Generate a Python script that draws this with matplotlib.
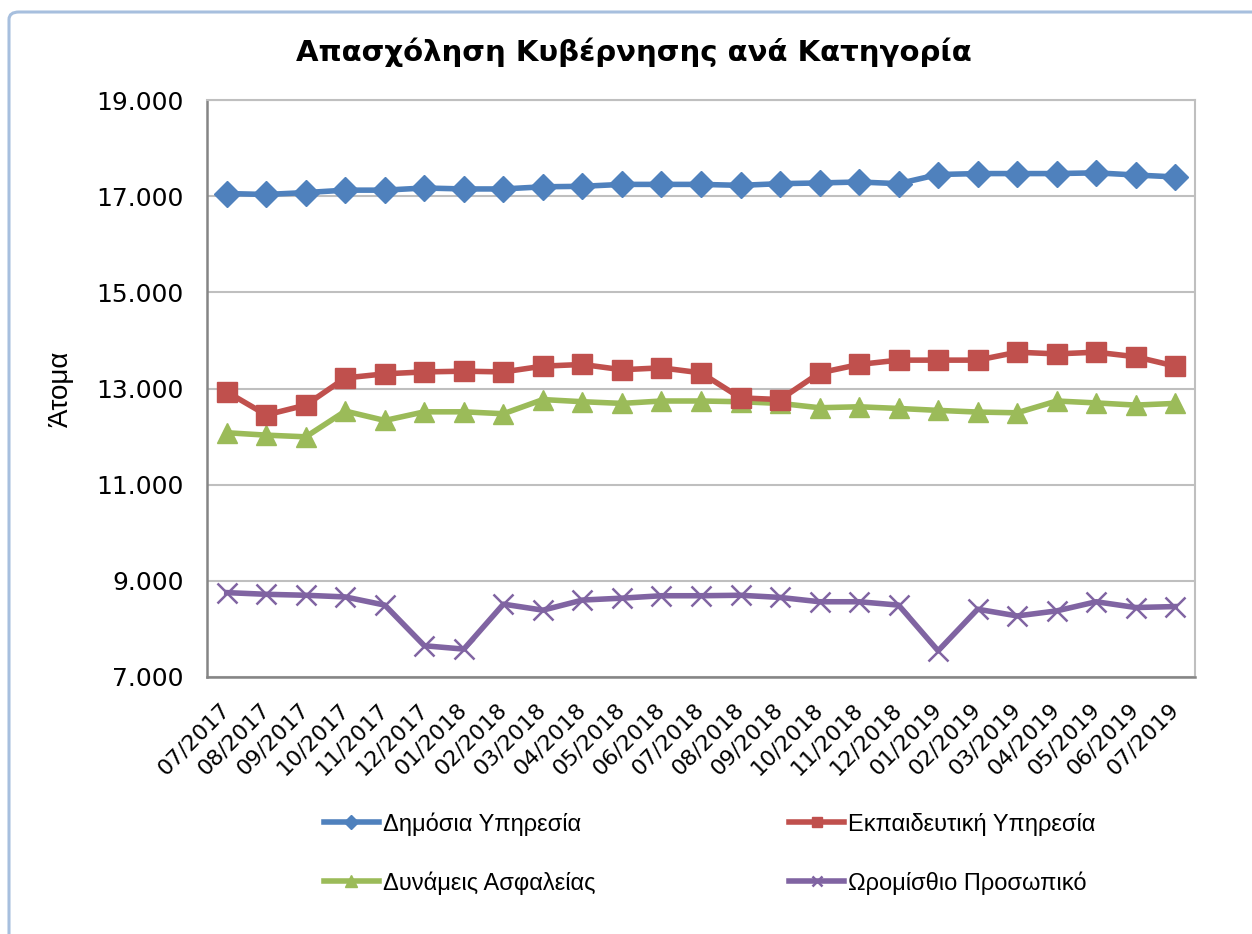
import matplotlib.pyplot as plt
from matplotlib.patches import FancyBboxPatch
from matplotlib.ticker import FuncFormatter

# months shown on the x axis
months = ['07/2017', '08/2017', '09/2017', '10/2017', '11/2017', '12/2017',
          '01/2018', '02/2018', '03/2018', '04/2018', '05/2018', '06/2018',
          '07/2018', '08/2018', '09/2018', '10/2018', '11/2018', '12/2018',
          '01/2019', '02/2019', '03/2019', '04/2019', '05/2019', '06/2019',
          '07/2019']

# values
dimosia = [17055, 17035, 17075, 17125, 17125, 17170, 17150, 17150, 17195,
           17205, 17245, 17245, 17245, 17225, 17260, 17275, 17295, 17260,
           17450, 17470, 17470, 17470, 17485, 17440, 17400]
ekpaideutiki = [12930, 12450, 12655, 13220, 13305, 13345, 13360, 13345, 13465,
                13500, 13390, 13430, 13325, 12805, 12770, 13325, 13500, 13590,
                13590, 13590, 13755, 13720, 13755, 13660, 13465]
dynameis = [12080, 12030, 11995, 12530, 12335, 12515, 12515, 12475, 12770,
            12725, 12690, 12740, 12740, 12725, 12690, 12600, 12620, 12585,
            12545, 12510, 12495, 12740, 12700, 12655, 12690]
oromisthio = [8755, 8720, 8700, 8665, 8495, 7650, 7580, 8515, 8390, 8600,
              8640, 8690, 8690, 8700, 8655, 8565, 8565, 8495, 7545, 8410,
              8270, 8375, 8565, 8445, 8465]

labels = ['Δημόσια Υπηρεσία', 'Εκπαιδευτική Υπηρεσία',
          'Δυνάμεις Ασφαλείας', 'Ωρομίσθιο Προσωπικό']

plt.rcParams['font.family'] = ['DejaVu Sans']

fig = plt.figure(figsize=(12.52, 9.34), dpi=100)

# chart area border (light blue, rounded, runs off the right/bottom)
border = FancyBboxPatch((9 / 1252, -0.05), 1.1, 1 - 12 / 934 + 0.05,
                        boxstyle='round,pad=0,rounding_size=0.008',
                        transform=fig.transFigure, fill=False,
                        edgecolor='#A7BFDE', linewidth=2.2, zorder=0)
fig.patches.append(border)

ax = fig.add_axes([207 / 1252, 1 - 677 / 934, (1195 - 207) / 1252, (677 - 100) / 934])

x = list(range(len(months)))
lw = 4.0
h1, = ax.plot(x, dimosia, color='#4F81BD', lw=lw, marker='D', ms=13,
              label=labels[0], zorder=5)
h2, = ax.plot(x, ekpaideutiki, color='#C0504D', lw=lw, marker='s', ms=14,
              label=labels[1], zorder=4)
h3, = ax.plot(x, dynameis, color='#9BBB59', lw=lw, marker='^', ms=15,
              label=labels[2], zorder=3)
h4, = ax.plot(x, oromisthio, color='#8064A2', lw=lw, marker='x', ms=14,
              mew=1.8, label=labels[3], zorder=2)

ax.set_xlim(-0.5, len(months) - 0.5)
ax.set_ylim(7000, 19000)
ax.set_yticks(range(7000, 19001, 2000))
ax.yaxis.set_major_formatter(FuncFormatter(lambda v, p: f'{int(v):,}'.replace(',', '.')))
ax.set_xticks(x)
ax.set_xticklabels(months, rotation=45, ha='right', va='center',
                   rotation_mode='anchor', fontsize=16)
ax.tick_params(axis='x', length=0, pad=21)
ax.tick_params(axis='y', length=0, pad=17, labelsize=18)

ax.grid(axis='y', color='#BFBFBF', lw=1.5)
ax.set_axisbelow(True)
for s in ['left', 'bottom']:
    ax.spines[s].set_color('#858585')
    ax.spines[s].set_linewidth(1.8)
ax.spines['right'].set_color('#BFBFBF')
ax.spines['right'].set_linewidth(1.5)
ax.spines['top'].set_color('#BFBFBF')
ax.spines['top'].set_linewidth(1.5)

ax.set_ylabel('Άτομα', fontsize=20, family='Liberation Sans', labelpad=16)

fig.text(634 / 1252, 1 - 52 / 934, 'Απασχόληση Κυβέρνησης ανά Κατηγορία',
         ha='center', va='center', fontsize=21, fontweight='bold')

# column-major order so rows read: Δημόσια / Εκπαιδευτική, Δυνάμεις / Ωρομίσθιο
leg = fig.legend(handles=[h1, h3, h2, h4], ncol=2, loc='upper left',
                 bbox_to_anchor=(303 / 1252, 1 - 791 / 934),
                 frameon=False, prop={'family': 'Liberation Sans', 'size': 17},
                 handlelength=2.3, handletextpad=0.2, columnspacing=8.2,
                 labelspacing=1.5, markerscale=0.55)

fig.savefig('out.png', dpi=100)
